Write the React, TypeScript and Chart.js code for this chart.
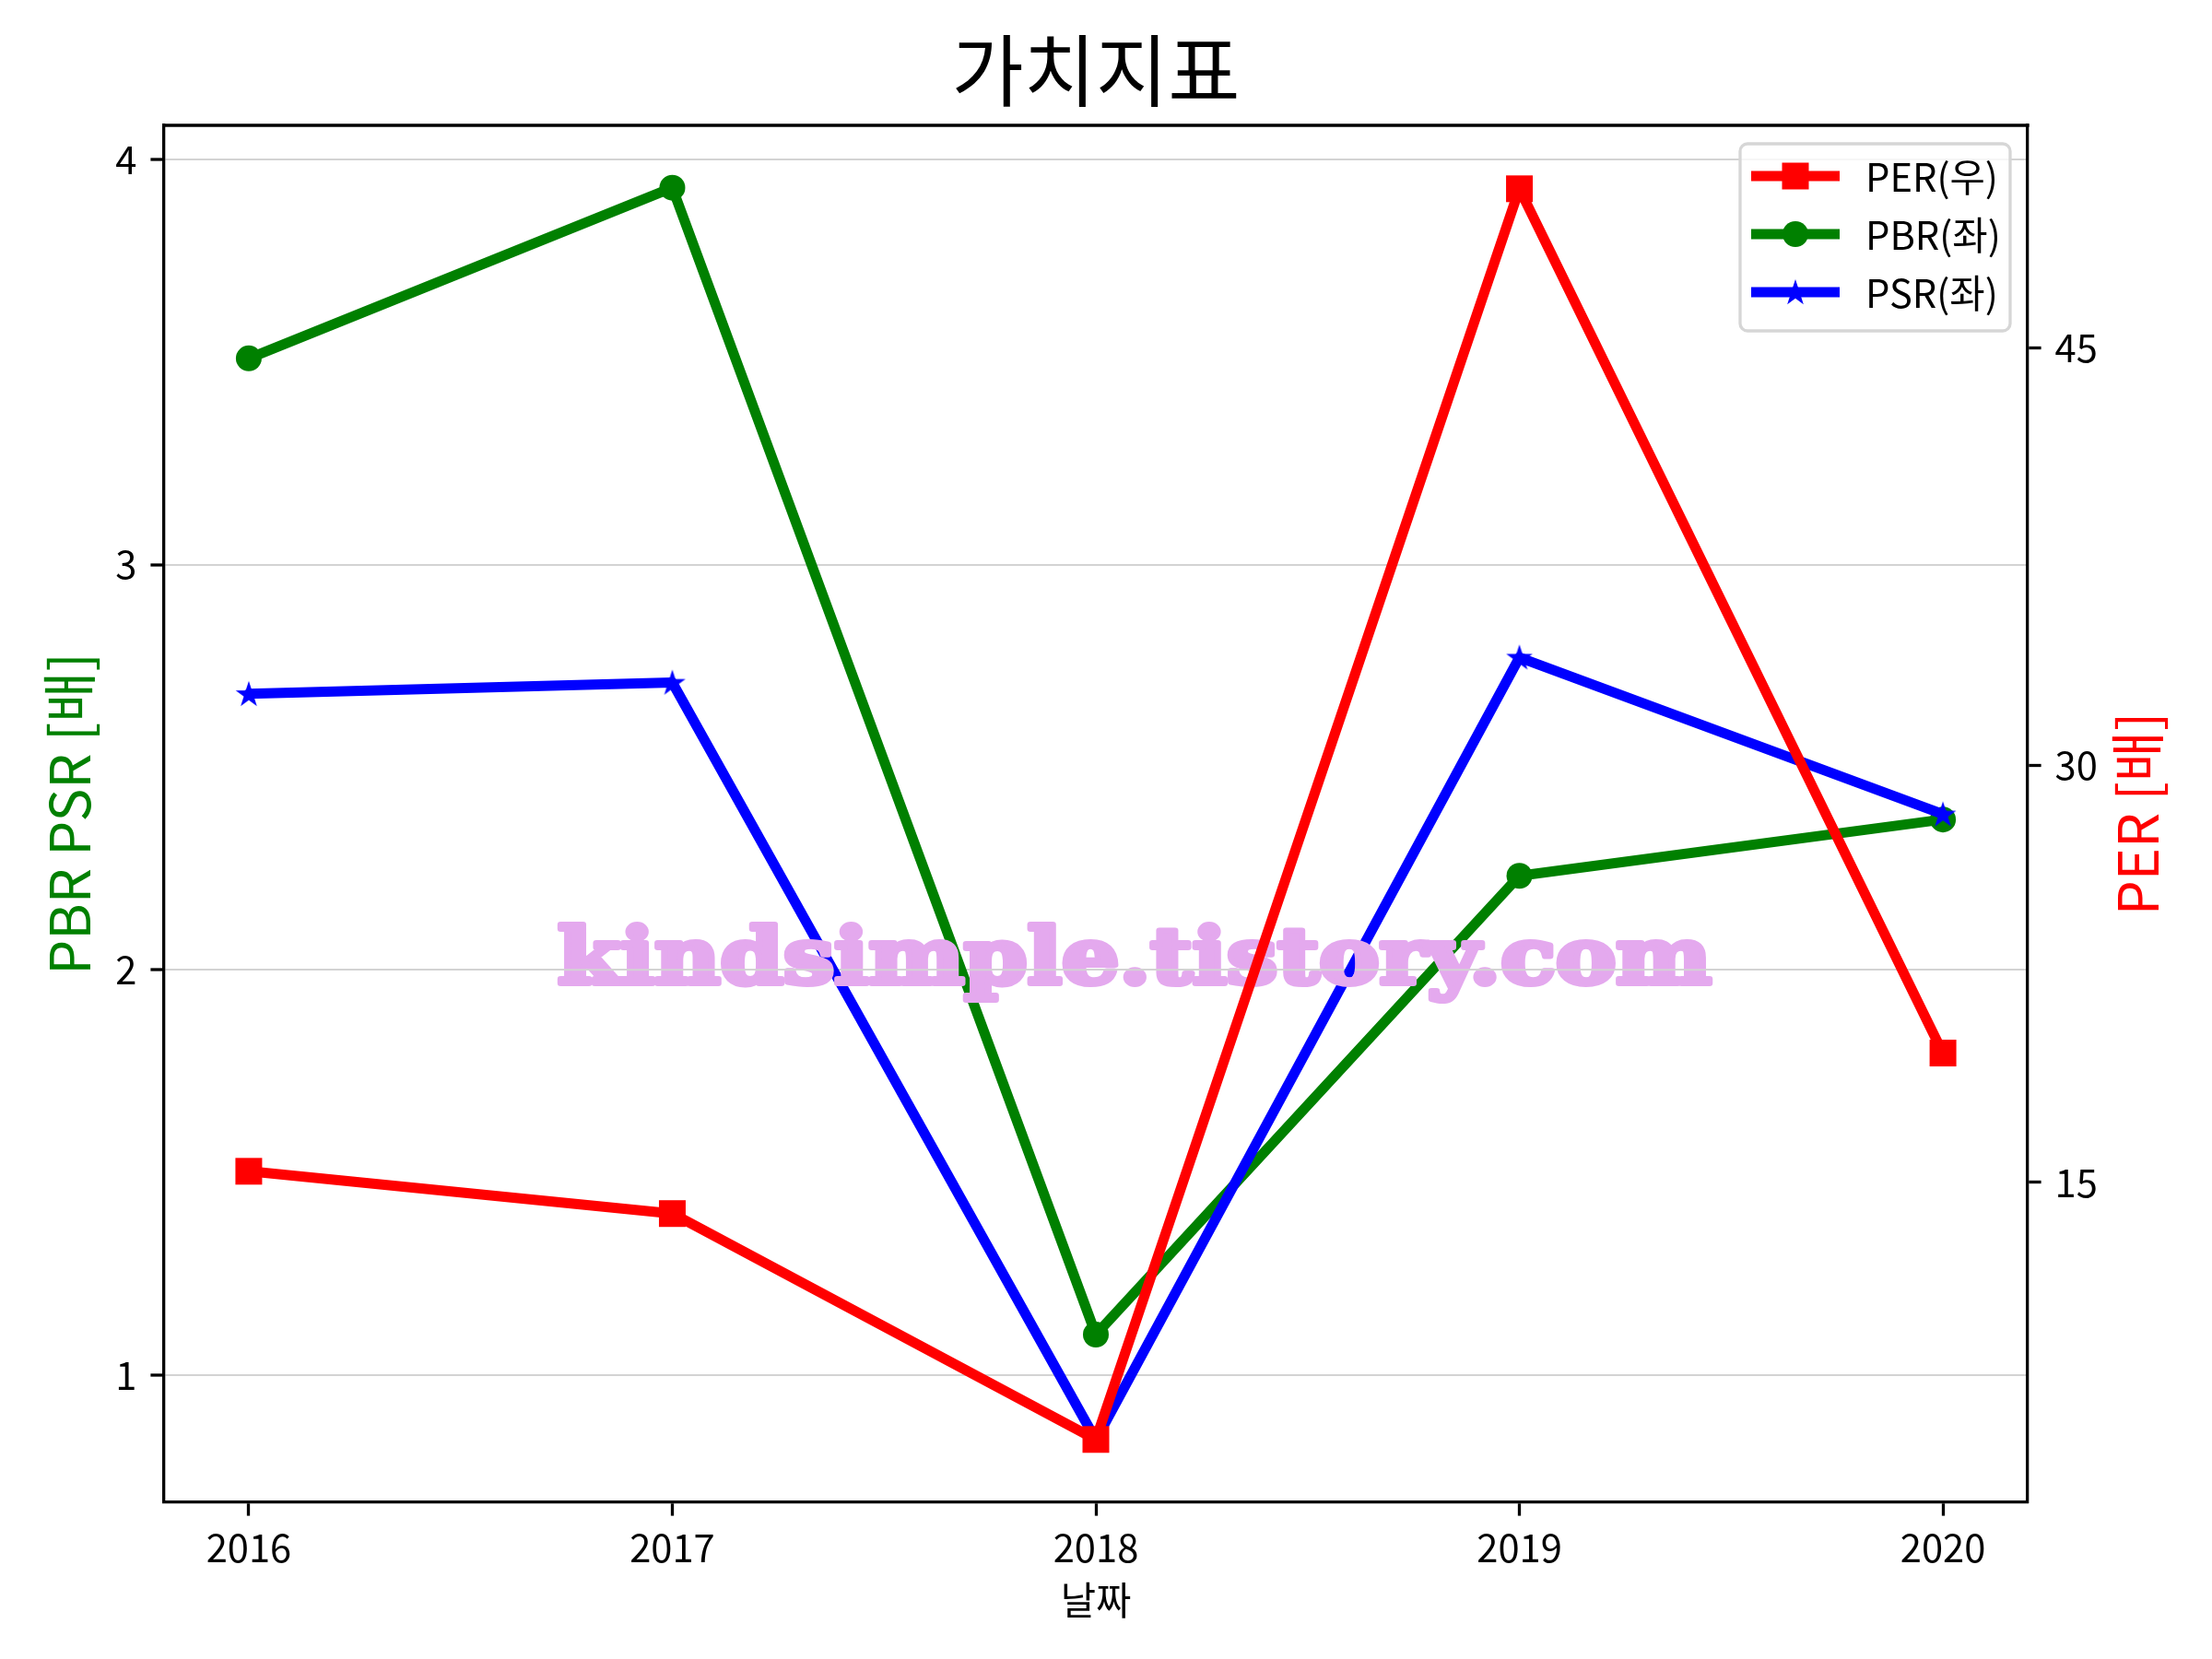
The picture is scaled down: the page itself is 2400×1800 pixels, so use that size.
import React, { useEffect, useRef } from "react";
import { Chart, registerables } from "chart.js";

Chart.register(...registerables);

// ---- data ----
const years = [2016, 2017, 2018, 2019, 2020];
const perValues = [15.4, 13.88, 5.76, 50.72, 19.65];
const pbrValues = [3.509, 3.93, 1.1, 2.232, 2.371];
const psrValues = [2.681, 2.709, 0.84, 2.771, 2.384];
const leftTicks = [1, 2, 3, 4];
const rightTicks = [15, 30, 45];
const seriesLabels = ["PER(우)", "PBR(좌)", "PSR(좌)"];
const seriesColors = ["#ff0000", "#008000", "#0000ff"];
const seriesMarkers = ["square", "circle", "star"];
const titleText = "가치지표";
const xTitleText = "날짜";
const leftTitleText = "PBR PSR [배]";
const rightTitleText = "PER [배]";
const watermarkText = "kindsimple.tistory.com";

// axis ranges
const xRange = [2015.8, 2020.2];
const leftRange = [0.686, 4.084];
const rightRange = [3.5, 53.0];

const FONT = "'Noto Sans CJK KR', 'Noto Sans', sans-serif";
const TICK_SIZE = 41.7;
const LABEL_SIZE = 60;
const TITLE_SIZE = 85;
const LINE_W = 11;
const SPINE_W = 3.3;
const TICK_LEN = 14.6;
const GRID_COLOR = "#d3d3d3";
const GRID_W = 2;
const WM_COLOR = "rgb(228,169,238)";

function starPath(ctx: CanvasRenderingContext2D, cx: number, cy: number, R: number) {
  const r = R * 0.381966;
  ctx.beginPath();
  for (let i = 0; i < 10; i++) {
    const ang = -Math.PI / 2 + (i * Math.PI) / 5;
    const rad = i % 2 === 0 ? R : r;
    const px = cx + rad * Math.cos(ang);
    const py = cy + rad * Math.sin(ang);
    if (i === 0) ctx.moveTo(px, py);
    else ctx.lineTo(px, py);
  }
  ctx.closePath();
}

function makeStarImage(color: string) {
  const size = 34;
  const c = document.createElement("canvas");
  c.width = size;
  c.height = size;
  const ctx = c.getContext("2d")!;
  starPath(ctx, size / 2, size / 2 + 1, 15);
  ctx.fillStyle = color;
  ctx.fill();
  return c;
}

function drawMarker(ctx: CanvasRenderingContext2D, kind: string, x: number, y: number, color: string) {
  ctx.fillStyle = color;
  if (kind === "square") {
    ctx.fillRect(x - 14.5, y - 14.5, 29, 29);
  } else if (kind === "circle") {
    ctx.beginPath();
    ctx.arc(x, y, 14, 0, Math.PI * 2);
    ctx.fill();
  } else {
    starPath(ctx, x, y + 1, 15);
    ctx.fill();
  }
}

function drawWatermark(chart: any) {
  const ctx: CanvasRenderingContext2D = chart.ctx;
  const a = chart.chartArea;
  const off = document.createElement("canvas");
  off.width = chart.width;
  off.height = chart.height;
  const o = off.getContext("2d")!;
  o.font = `bold 84px 'DejaVu Serif', serif`;
  const w = o.measureText(watermarkText).width + 6;
  const sx = 1259 / w;
  o.save();
  o.translate(1231, 1067);
  o.scale(sx, 1);
  o.textAlign = "center";
  o.textBaseline = "alphabetic";
  o.fillStyle = WM_COLOR;
  o.strokeStyle = WM_COLOR;
  o.lineWidth = 6;
  o.lineJoin = "round";
  o.fillText(watermarkText, 0, 0);
  o.strokeText(watermarkText, 0, 0);
  o.restore();
  // grid lines show through the watermark letters
  o.globalCompositeOperation = "source-atop";
  o.strokeStyle = GRID_COLOR;
  o.lineWidth = GRID_W;
  const ys = chart.scales.y;
  leftTicks.forEach((v) => {
    const py = ys.getPixelForValue(v);
    o.beginPath();
    o.moveTo(a.left, py);
    o.lineTo(a.right, py);
    o.stroke();
  });
  ctx.drawImage(off, 0, 0);
}

const decorPlugin = {
  id: "decor",
  afterDatasetDraw(chart: any, args: any) {
    // watermark sits above PBR/PSR lines, below the PER line
    if (args.index === 2) drawWatermark(chart);
  },
  afterDatasetsDraw(chart: any) {
    const ctx: CanvasRenderingContext2D = chart.ctx;
    const a = chart.chartArea;
    // top spine
    ctx.save();
    ctx.strokeStyle = "#000";
    ctx.lineWidth = SPINE_W;
    ctx.beginPath();
    ctx.moveTo(a.left - SPINE_W / 2, a.top);
    ctx.lineTo(a.right + SPINE_W / 2, a.top);
    ctx.stroke();
    ctx.restore();

    // right axis title (reads bottom-to-top like the left one)
    ctx.save();
    ctx.translate(2319, (a.top + a.bottom) / 2);
    ctx.rotate(-Math.PI / 2);
    ctx.font = `${LABEL_SIZE}px ${FONT}`;
    ctx.fillStyle = "#ff0000";
    ctx.textAlign = "center";
    ctx.textBaseline = "middle";
    ctx.fillText(rightTitleText, 0, 0);
    ctx.restore();

    // legend
    const bx = 1888, by = 156, bw = 293, bh = 203, br = 8;
    ctx.save();
    ctx.beginPath();
    ctx.moveTo(bx + br, by);
    ctx.arcTo(bx + bw, by, bx + bw, by + bh, br);
    ctx.arcTo(bx + bw, by + bh, bx, by + bh, br);
    ctx.arcTo(bx, by + bh, bx, by, br);
    ctx.arcTo(bx, by, bx + bw, by, br);
    ctx.closePath();
    ctx.fillStyle = "rgba(255,255,255,0.8)";
    ctx.fill();
    ctx.strokeStyle = "#d6d6d6";
    ctx.lineWidth = 3.3;
    ctx.stroke();
    const rowsY = [191, 254, 317];
    chart.data.datasets.forEach((ds: any, i: number) => {
      const y = rowsY[i];
      ctx.strokeStyle = seriesColors[i];
      ctx.lineWidth = LINE_W;
      ctx.lineCap = "butt";
      ctx.beginPath();
      ctx.moveTo(1900, y);
      ctx.lineTo(1996, y);
      ctx.stroke();
      drawMarker(ctx, seriesMarkers[i], 1948, y, seriesColors[i]);
      ctx.fillStyle = "#000";
      ctx.font = `${TICK_SIZE}px ${FONT}`;
      ctx.textAlign = "left";
      ctx.textBaseline = "middle";
      ctx.fillText(ds.label, 2024, y + 1);
    });
    ctx.restore();
  },
};

export default function App() {
  const ref = useRef<HTMLCanvasElement | null>(null);

  useEffect(() => {
    document.body.style.margin = "0";
    const canvas = ref.current;
    if (!canvas) return;
    Chart.defaults.font.family = FONT;
    Chart.defaults.color = "#000";

    const starImg = makeStarImage(seriesColors[2]);
    const toXY = (vals: number[]) => years.map((y, i) => ({ x: y, y: vals[i] }));

    const chart = new Chart(canvas, {
      type: "line",
      data: {
        datasets: [
          {
            label: seriesLabels[0],
            data: toXY(perValues),
            yAxisID: "y1",
            borderColor: seriesColors[0],
            backgroundColor: seriesColors[0],
            borderWidth: LINE_W,
            pointStyle: "rect",
            pointRadius: 20.5,
            pointBorderWidth: 0,
            pointBackgroundColor: seriesColors[0],
            borderJoinStyle: "round",
            borderCapStyle: "round",
            tension: 0,
            order: 0,
          },
          {
            label: seriesLabels[1],
            data: toXY(pbrValues),
            yAxisID: "y",
            borderColor: seriesColors[1],
            backgroundColor: seriesColors[1],
            borderWidth: LINE_W,
            pointStyle: "circle",
            pointRadius: 14,
            pointBorderWidth: 0,
            pointBackgroundColor: seriesColors[1],
            borderJoinStyle: "round",
            borderCapStyle: "round",
            tension: 0,
            order: 2,
          },
          {
            label: seriesLabels[2],
            data: toXY(psrValues),
            yAxisID: "y",
            borderColor: seriesColors[2],
            backgroundColor: seriesColors[2],
            borderWidth: LINE_W,
            pointStyle: starImg as any,
            pointRadius: 15,
            pointBorderWidth: 0,
            pointBackgroundColor: seriesColors[2],
            borderJoinStyle: "round",
            borderCapStyle: "round",
            tension: 0,
            order: 1,
          },
        ],
      },
      options: {
        responsive: false,
        animation: false,
        devicePixelRatio: 1,
        events: [],
        layout: { padding: 0 },
        plugins: {
          legend: { display: false },
          tooltip: { enabled: false },
          title: {
            display: true,
            fullSize: false,
            text: titleText,
            color: "#000",
            font: { size: TITLE_SIZE, weight: "normal", family: FONT },
            padding: { top: 26, bottom: 8 },
          },
        },
        scales: {
          x: {
            type: "linear",
            min: xRange[0],
            max: xRange[1],
            afterBuildTicks: (s: any) => {
              s.ticks = years.map((v) => ({ value: v }));
            },
            afterFit: (s: any) => {
              s.height = 170;
            },
            ticks: {
              callback: (v: any) => String(v),
              font: { size: TICK_SIZE },
              color: "#000",
              padding: 10,
              maxRotation: 0,
              autoSkip: false,
            },
            grid: {
              drawOnChartArea: false,
              drawTicks: true,
              tickLength: TICK_LEN,
              tickColor: "#000",
              tickWidth: SPINE_W,
            },
            border: { display: true, color: "#000", width: SPINE_W },
            title: {
              display: true,
              text: xTitleText,
              color: "#000",
              font: { size: TICK_SIZE },
              padding: { top: 0, bottom: 39 },
            },
          },
          y: {
            type: "linear",
            position: "left",
            min: leftRange[0],
            max: leftRange[1],
            afterBuildTicks: (s: any) => {
              s.ticks = leftTicks.map((v) => ({ value: v }));
            },
            afterFit: (s: any) => {
              s.width = 178;
            },
            ticks: {
              callback: (v: any) => String(v),
              font: { size: TICK_SIZE },
              color: "#000",
              padding: 15,
            },
            grid: {
              drawOnChartArea: true,
              drawTicks: true,
              color: GRID_COLOR,
              lineWidth: GRID_W,
              tickLength: TICK_LEN,
              tickColor: "#000",
              tickWidth: SPINE_W,
            },
            border: { display: true, color: "#000", width: SPINE_W },
            title: {
              display: true,
              text: leftTitleText,
              color: "#008000",
              font: { size: LABEL_SIZE },
              padding: { top: 39, bottom: 0 },
            },
          },
          y1: {
            type: "linear",
            position: "right",
            min: rightRange[0],
            max: rightRange[1],
            afterBuildTicks: (s: any) => {
              s.ticks = rightTicks.map((v) => ({ value: v }));
            },
            afterFit: (s: any) => {
              s.width = 200;
            },
            ticks: {
              callback: (v: any) => String(v),
              font: { size: TICK_SIZE },
              color: "#000",
              padding: 15,
            },
            grid: {
              drawOnChartArea: false,
              drawTicks: true,
              tickLength: TICK_LEN,
              tickColor: "#000",
              tickWidth: SPINE_W,
            },
            border: { display: true, color: "#000", width: SPINE_W },
          },
        },
      } as any,
      plugins: [decorPlugin],
    });

    return () => chart.destroy();
  }, []);

  return (
    <div style={{ position: "absolute", left: 0, top: 0, width: 2400, height: 1800, background: "#fff" }}>
      <canvas ref={ref} width={2400} height={1800} style={{ display: "block", width: 2400, height: 1800 }} />
    </div>
  );
}
